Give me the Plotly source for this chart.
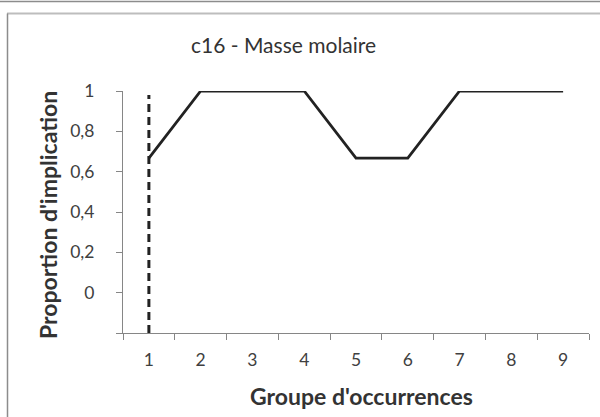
import plotly.graph_objects as go

groups = [1, 2, 3, 4, 5, 6, 7, 8, 9]
proportions = [0.667, 1, 1, 1, 0.667, 0.667, 1, 1, 1]
ref_x = [1, 1]
ref_y = [-0.2, 0.98]
y_ticks = [0, 0.2, 0.4, 0.6, 0.8, 1]
y_labels = ["0", "0,2", "0,4", "0,6", "0,8", "1"]

FONT = "Lato"
W, H = 600, 417
L, R, T, B = 123, 11, 91, 84
PW, PH = W - L - R, H - T - B

fig = go.Figure()
fig.add_trace(go.Scatter(x=ref_x, y=ref_y, mode="lines",
                         line=dict(color="#222222", width=3, dash="8px,5px"),
                         hoverinfo="skip", showlegend=False))
fig.add_trace(go.Scatter(x=groups, y=proportions, mode="lines",
                         line=dict(color="#222222", width=2.8),
                         showlegend=False))

fig.update_layout(
    width=W, height=H,
    margin=dict(l=L, r=R, t=T, b=B),
    paper_bgcolor="white", plot_bgcolor="white",
    font=dict(family=FONT, color="#404040", size=17.5),
    xaxis=dict(range=[0.5, 9.5], tickvals=groups, ticktext=[str(g) for g in groups],
               ticks="", showgrid=False, zeroline=False,
               showline=True, linecolor="#868686", linewidth=1,
               ticklabelstandoff=11,
               minor=dict(tickvals=[g - 0.5 for g in groups] + [9.5], ticks="outside",
                          ticklen=6, tickcolor="#868686", showgrid=False),
               fixedrange=True),
    yaxis=dict(range=[-0.2, 1], tickvals=y_ticks + [-0.2], ticktext=y_labels + [""],
               ticks="outside", ticklen=6, tickcolor="#868686",
               showgrid=False, zeroline=False,
               showline=True, linecolor="#868686", linewidth=1,
               ticklabelstandoff=18, fixedrange=True),
    annotations=[
        dict(text="c16 - Masse molaire", xref="paper", yref="paper",
             x=(283 - L) / PW, y=1 + (T - 44) / PH,
             xanchor="center", yanchor="middle", showarrow=False,
             font=dict(family=FONT, size=21, color="#333333")),
        dict(text="<b>Proportion d'implication</b>", xref="paper", yref="paper",
             x=(48 - L) / PW, y=(H - B - 215) / PH,
             xanchor="center", yanchor="middle", showarrow=False, textangle=-90,
             font=dict(family=FONT, size=23, color="#333333")),
        dict(text="<b>Groupe d'occurrences</b>", xref="paper", yref="paper",
             x=(361 - L) / PW, y=-(396 - (H - B)) / PH,
             xanchor="center", yanchor="middle", showarrow=False,
             font=dict(family=FONT, size=23, color="#333333")),
    ],
    shapes=[
        dict(type="line", xref="paper", yref="paper",
             x0=-L / PW, x1=1 + R / PW,
             y0=1 + (T - 1.5) / PH, y1=1 + (T - 1.5) / PH,
             line=dict(color="#8c8c8c", width=1.5)),
        dict(type="line", xref="paper", yref="paper",
             x0=-(L - 7) / PW, x1=1 + R / PW,
             y0=1 + (T - 13.5) / PH, y1=1 + (T - 13.5) / PH,
             line=dict(color="#bdbdbd", width=2)),
        dict(type="line", xref="paper", yref="paper",
             x0=-(L - 7.5) / PW, x1=-(L - 7.5) / PW,
             y0=1 + (T - 13.5) / PH, y1=-(B + 5) / PH,
             line=dict(color="#8c8c8c", width=1.5)),
    ],
)

fig.write_html("out.html", config={"displayModeBar": False},
               post_script="document.body.style.margin='0';")
